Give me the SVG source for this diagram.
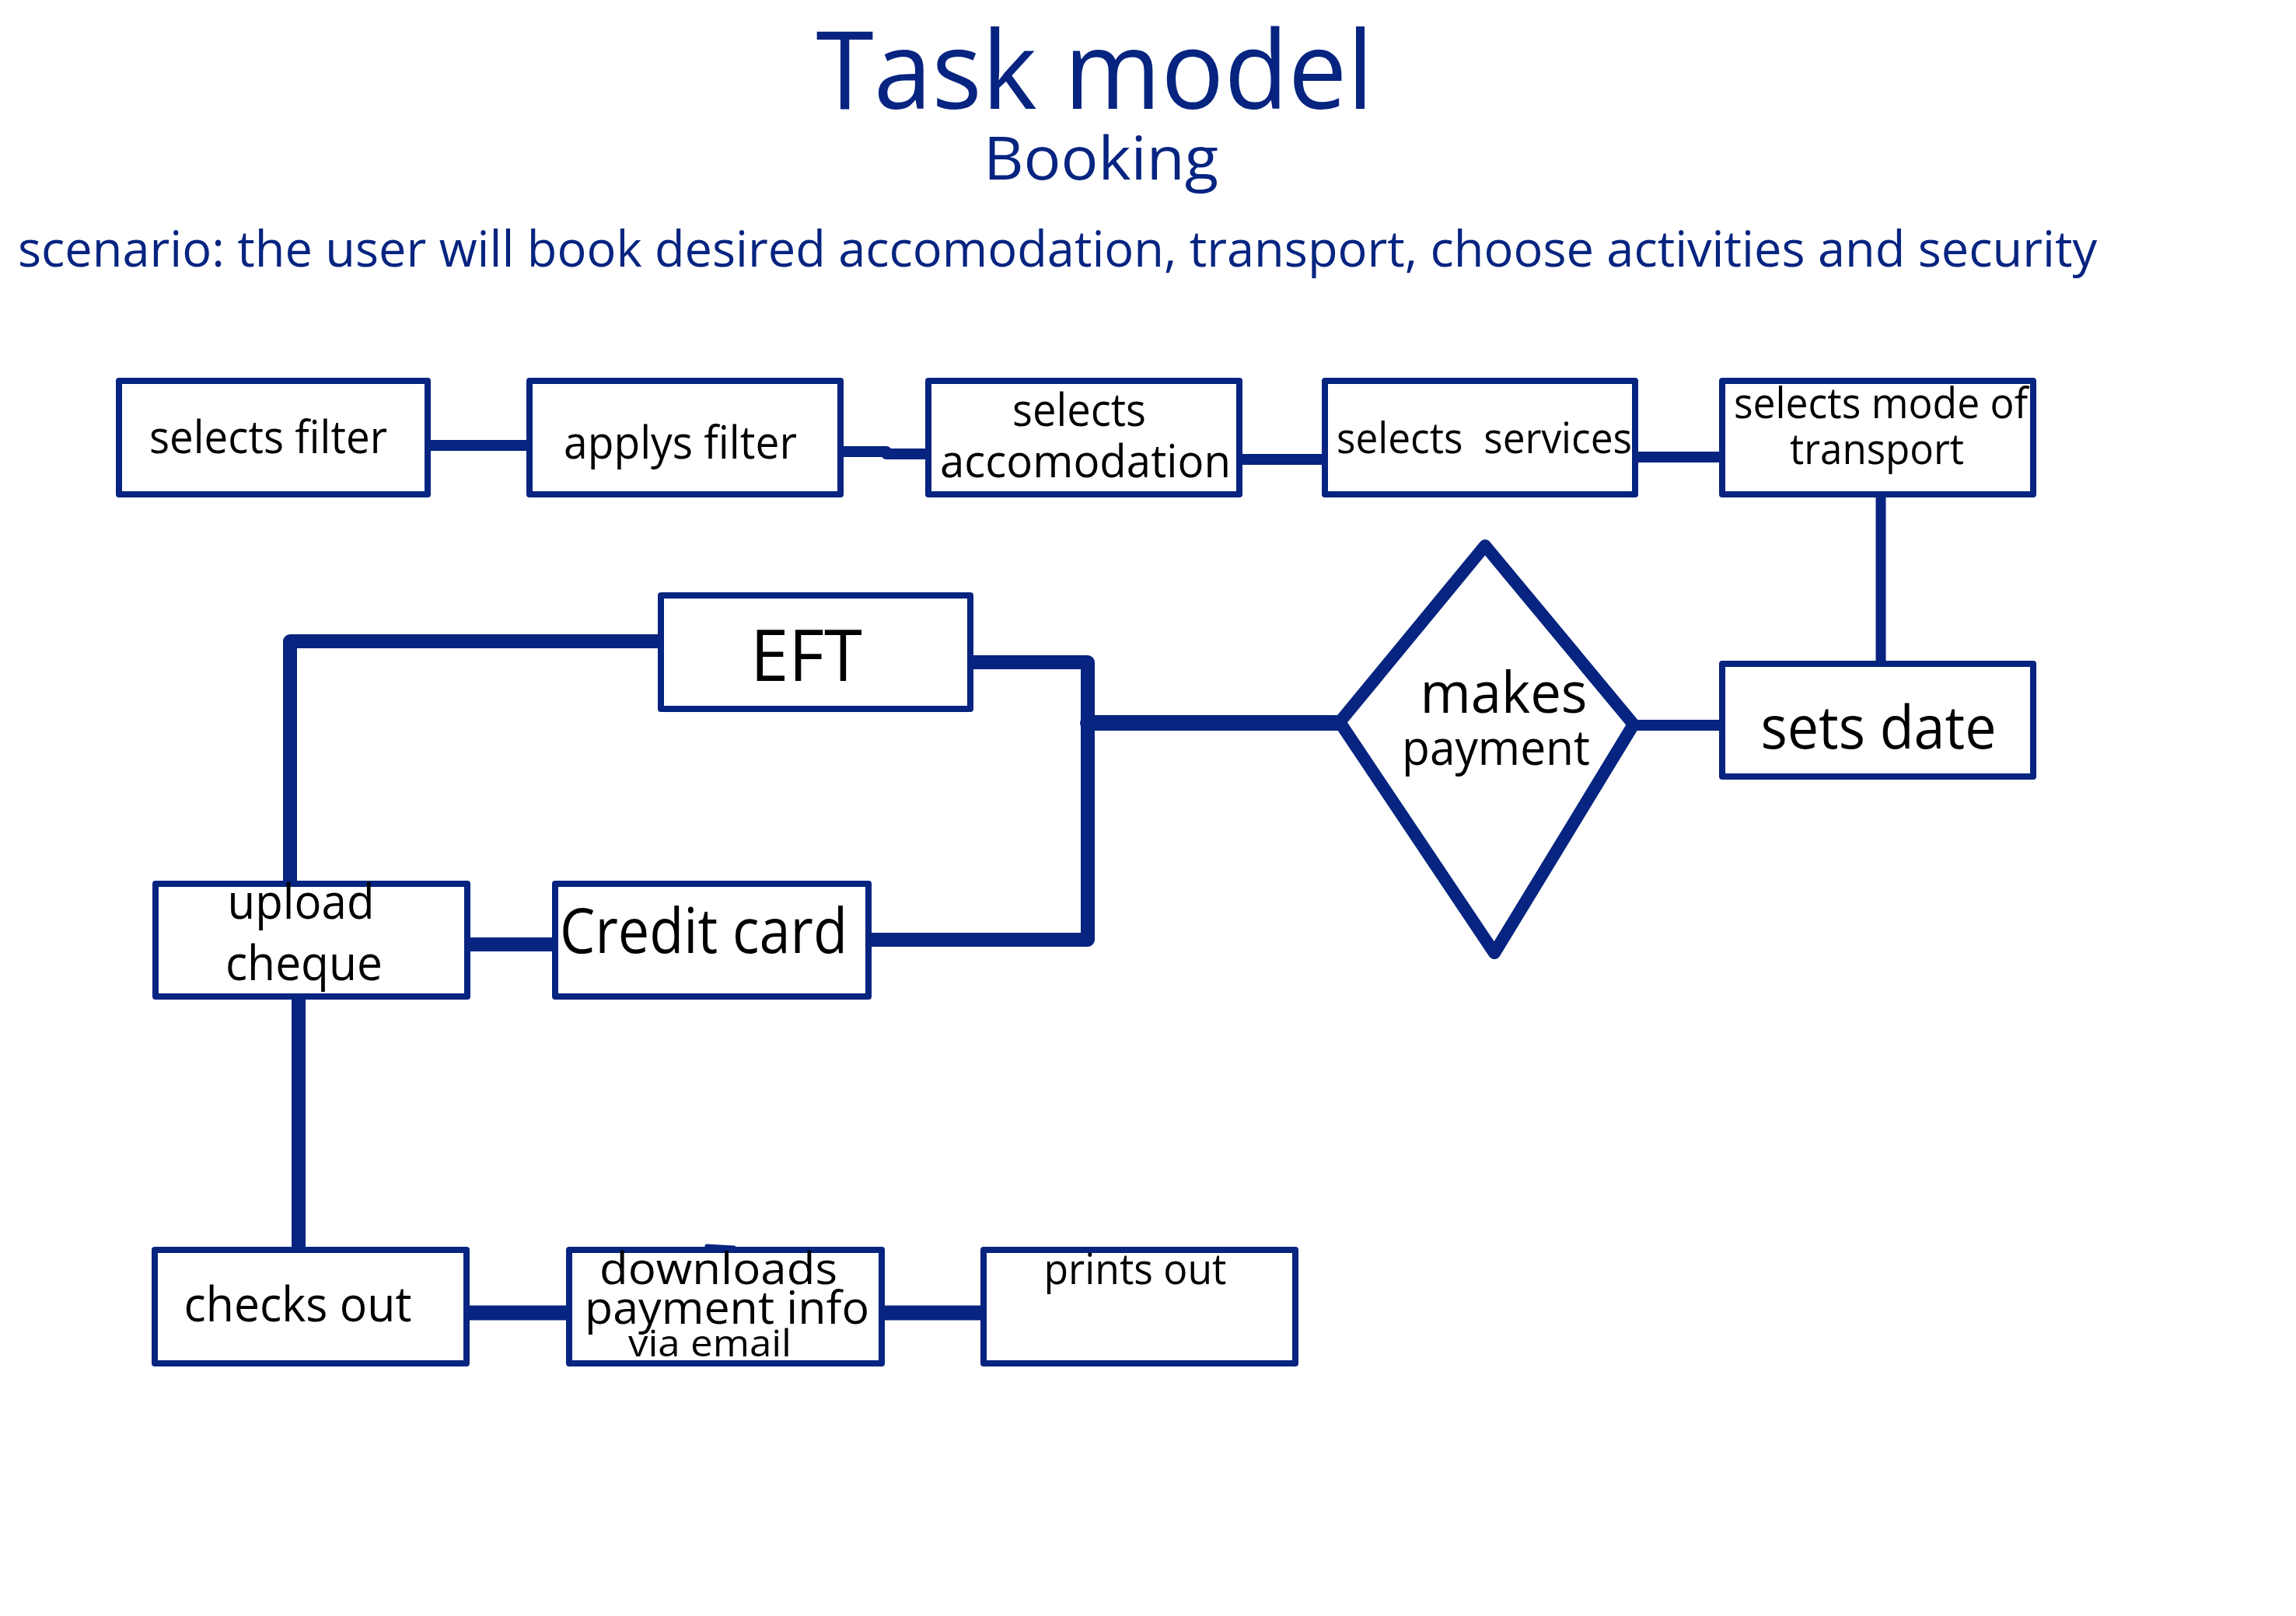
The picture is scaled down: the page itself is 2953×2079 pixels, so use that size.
<svg xmlns="http://www.w3.org/2000/svg" width="2953" height="2079" viewBox="0 0 2953 2079">
<style>
.bg{fill:#ffffff}
.box{fill:#ffffff;stroke:#062480;stroke-width:8;stroke-linejoin:round}
.dia{fill:#ffffff;stroke:#062480;stroke-width:16;stroke-linejoin:round}
.c{fill:none;stroke:#062480;stroke-linecap:round;stroke-linejoin:round}
.t{font-family:"Open Sans","Noto Sans",sans-serif;fill:#000000;text-anchor:middle}
.h{font-family:"Open Sans","Noto Sans",sans-serif;fill:#062480}
</style>
<rect class="bg" x="0" y="0" width="2953" height="2079"/>
<g id="header">
<text class="h" x="1408" y="140" font-size="140" text-anchor="middle" textLength="717" lengthAdjust="spacingAndGlyphs">Task model</text>
<text class="h" x="1416" y="231" font-size="76" text-anchor="middle" textLength="302" lengthAdjust="spacingAndGlyphs">Booking</text>
<text class="h" x="23" y="343" font-size="64" textLength="2674" lengthAdjust="spacingAndGlyphs">scenario: the user will book desired accomodation, transport, choose activities and security</text>
</g>
<g id="connectors">
<line class="c" x1="554" y1="573" x2="681" y2="573" stroke-width="14"/>
<path class="c" d="M1085 581 H1140 M1140 584 H1194" stroke-width="14"/>
<line class="c" x1="1598" y1="591" x2="1704" y2="591" stroke-width="14"/>
<line class="c" x1="2107" y1="588" x2="2215" y2="588" stroke-width="14"/>
<line class="c" x1="2419" y1="640" x2="2419" y2="854" stroke-width="13"/>
<line class="c" x1="2101" y1="933" x2="2215" y2="933" stroke-width="14"/>
<line class="c" x1="1399" y1="930" x2="1723" y2="930" stroke-width="20"/>
<path class="c" d="M1252 852 H1399 V1209 H1121" stroke-width="18"/>
<path class="c" d="M850 825 H373 V1137" stroke-width="18"/>
<line class="c" x1="605" y1="1215" x2="714" y2="1215" stroke-width="18"/>
<line class="c" x1="384" y1="1286" x2="384" y2="1608" stroke-width="18"/>
<line class="c" x1="604" y1="1689" x2="732" y2="1689" stroke-width="19"/>
<line class="c" x1="1138" y1="1689" x2="1265" y2="1689" stroke-width="19"/>
<path class="c" d="M909 1603 L944 1605" stroke-width="5"/>
</g>
<g id="selects-filter">
<rect class="box" x="153" y="490" width="397" height="146"/>
<text class="t" x="345" y="583" font-size="58" textLength="306" lengthAdjust="spacingAndGlyphs">selects filter</text>
</g>
<g id="applys-filter">
<rect class="box" x="681" y="490" width="400" height="146"/>
<text class="t" x="875" y="590" font-size="58" textLength="300" lengthAdjust="spacingAndGlyphs">applys filter</text>
</g>
<g id="selects-accomodation">
<rect class="box" x="1194" y="490" width="400" height="146"/>
<text class="t" x="1388" y="548" font-size="58" textLength="172" lengthAdjust="spacingAndGlyphs">selects</text>
<text class="t" x="1396" y="614" font-size="58" textLength="374" lengthAdjust="spacingAndGlyphs">accomodation</text>
</g>
<g id="selects-services">
<rect class="box" x="1704" y="490" width="399" height="146"/>
<text class="t" x="1909" y="583" font-size="54" textLength="380" lengthAdjust="spacingAndGlyphs" xml:space="preserve">selects  services</text>
</g>
<g id="selects-mode-of-transport">
<rect class="box" x="2215" y="490" width="400" height="146"/>
<text class="t" x="2419" y="538" font-size="54" textLength="378" lengthAdjust="spacingAndGlyphs">selects mode of</text>
<text class="t" x="2414" y="597" font-size="54" textLength="224" lengthAdjust="spacingAndGlyphs">transport</text>
</g>
<g id="sets-date">
<rect class="box" x="2215" y="854" width="400" height="145" stroke-width="7"/>
<text class="t" x="2416" y="963" font-size="76" textLength="303" lengthAdjust="spacingAndGlyphs">sets date</text>
</g>
<g id="makes-payment">
<polygon class="dia" points="1910,702 2101,932 1922,1226 1723,929"/>
<text class="t" x="1934" y="917" font-size="74" textLength="215" lengthAdjust="spacingAndGlyphs">makes</text>
<text class="t" x="1924" y="984" font-size="62" textLength="242" lengthAdjust="spacingAndGlyphs">payment</text>
</g>
<g id="eft">
<rect class="box" x="850" y="766" width="398" height="146"/>
<text class="t" x="1037" y="876" font-size="92" textLength="144" lengthAdjust="spacingAndGlyphs">EFT</text>
</g>
<g id="credit-card">
<rect class="box" x="714" y="1137" width="403" height="145"/>
<text class="t" x="905" y="1226" font-size="80" textLength="370" lengthAdjust="spacingAndGlyphs">Credit card</text>
</g>
<g id="upload-cheque">
<rect class="box" x="200" y="1137" width="401" height="145"/>
<text class="t" x="387" y="1182" font-size="62" textLength="189" lengthAdjust="spacingAndGlyphs">upload</text>
<text class="t" x="391" y="1261" font-size="62" textLength="202" lengthAdjust="spacingAndGlyphs">cheque</text>
</g>
<g id="checks-out">
<rect class="box" x="199" y="1608" width="401" height="146"/>
<text class="t" x="383" y="1700" font-size="62" textLength="293" lengthAdjust="spacingAndGlyphs">checks out</text>
</g>
<g id="downloads-payment-info">
<rect class="box" x="732" y="1608" width="402" height="146"/>
<text class="t" x="924" y="1652" font-size="56" textLength="306" lengthAdjust="spacingAndGlyphs">downloads</text>
<text class="t" x="935" y="1703" font-size="58" textLength="366" lengthAdjust="spacingAndGlyphs">payment info</text>
<text class="t" x="913" y="1745" font-size="48" textLength="210" lengthAdjust="spacingAndGlyphs">via email</text>
</g>
<g id="prints-out">
<rect class="box" x="1265" y="1608" width="401" height="146"/>
<text class="t" x="1460" y="1652" font-size="54" textLength="235" lengthAdjust="spacingAndGlyphs">prints out</text>
</g>
</svg>
